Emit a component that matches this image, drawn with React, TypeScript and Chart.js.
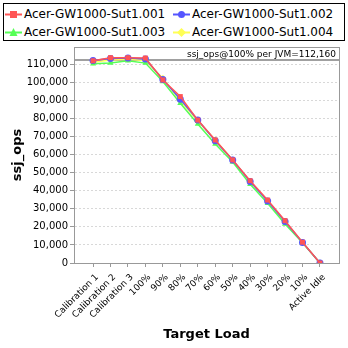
import React, { useEffect, useRef } from "react";
import { Chart, registerables } from "chart.js";
Chart.register(...registerables);

const categories = ["Calibration 1", "Calibration 2", "Calibration 3", "100%", "90%", "80%", "70%", "60%", "50%", "40%", "30%", "20%", "10%", "Active Idle"];
const seriesNames = ["Acer-GW1000-Sut1.001", "Acer-GW1000-Sut1.002", "Acer-GW1000-Sut1.003", "Acer-GW1000-Sut1.004"];
const sut001 = [111800, 113500, 113500, 113300, 101200, 92000, 79000, 68000, 57000, 45500, 34800, 23400, 11500, 0];
const sut002 = [112000, 113000, 113300, 112800, 101500, 90500, 79000, 67600, 56900, 45000, 34300, 22900, 11400, 0];
const sut003 = [110200, 110500, 111800, 110500, 100300, 88300, 76800, 65800, 55800, 43500, 33000, 21600, 11200, 0];
const sut004 = [111000, 112200, 112600, 112000, 102100, 89700, 78500, 68000, 56900, 45000, 34300, 22500, 11400, 0];
const refValue = 112160;
const refLabel = "ssj_ops@100% per JVM=112,160";
const yTicks = [0, 10000, 20000, 30000, 40000, 50000, 60000, 70000, 80000, 90000, 100000, 110000];

const colors = ["#ff5555", "#5555ff", "#55ff55", "#ffff55"];
const pointStyles = ["rect", "circle", "triangle", "rectRot"];
const allSeries = [sut001, sut002, sut003, sut004];

const FONT = "'DejaVu Sans', sans-serif";

function LegendMarker({ i }: { i: number }) {
  const c = colors[i];
  let shape: React.ReactNode;
  if (i === 0) shape = <rect x={5} y={3} width={7} height={7} fill={c} />;
  else if (i === 1) shape = <circle cx={8.5} cy={6.5} r={3.5} fill={c} />;
  else if (i === 2) shape = <polygon points="8.5,2 12.5,10 4.5,10" fill={c} />;
  else shape = <polygon points="8.5,2 13,6.5 8.5,11 4,6.5" fill={c} />;
  return (
    <svg width={17} height={13} style={{ display: "block" }}>
      <line x1={0} y1={6.5} x2={17} y2={6.5} stroke={c} strokeWidth={2} />
      {shape}
    </svg>
  );
}

export default function App() {
  const ref = useRef<HTMLCanvasElement>(null);
  useEffect(() => {
    document.body.style.margin = "0";
    const refPlugin = {
      id: "refline",
      beforeDatasetsDraw(chart: any) {
        const { ctx, chartArea, scales } = chart;
        const y = scales.y.getPixelForValue(refValue);
        ctx.save();
        ctx.strokeStyle = "#808080";
        ctx.lineWidth = 1.5;
        ctx.beginPath();
        ctx.moveTo(chartArea.left, y);
        ctx.lineTo(chartArea.right, y);
        ctx.stroke();
        ctx.fillStyle = "#000";
        ctx.font = "9px " + FONT;
        ctx.textAlign = "right";
        ctx.textBaseline = "top";
        ctx.fillText(refLabel, chartArea.right - 3, chartArea.top + 3);
        ctx.restore();
      },
      afterDraw(chart: any) {
        const { ctx, chartArea } = chart;
        ctx.save();
        ctx.strokeStyle = "#999";
        ctx.lineWidth = 1;
        ctx.strokeRect(Math.round(chartArea.left) + 0.5, Math.round(chartArea.top) + 0.5, Math.round(chartArea.right - chartArea.left), Math.round(chartArea.bottom - chartArea.top));
        ctx.restore();
      },
    };
    const chart = new Chart(ref.current!, {
      type: "line",
      data: {
        datasets: allSeries.map((s, i) => ({
          label: seriesNames[i],
          data: s.map((v, j) => ({ x: j, y: v })),
          borderColor: colors[i],
          backgroundColor: colors[i],
          borderWidth: 1.5,
          pointStyle: pointStyles[i] as any,
          pointRadius: 3.5,
          pointBorderWidth: 0,
          tension: 0,
        })),
      },
      options: {
        animation: false,
        responsive: false,
        layout: { padding: { top: 47, left: 0, right: 9, bottom: 0 } },
        plugins: { legend: { display: false }, tooltip: { enabled: false } },
        scales: {
          x: {
            type: "linear",
            min: -1.09,
            max: 14.09,
            afterBuildTicks(scale: any) {
              scale.ticks = categories.map((_, i) => ({ value: i }));
            },
            afterFit(scale: any) {
              scale.height = 85;
            },
            ticks: {
              autoSkip: false,
              maxRotation: 45,
              minRotation: 45,
              padding: 5,
              labelOffset: 4,
              color: "#000",
              font: { family: FONT, size: 9 },
              callback: (v: any) => categories[v] ?? "",
            },
            grid: { drawOnChartArea: false, drawTicks: true, tickLength: 4, color: "#999" },
            border: { display: true, color: "#999" },
            title: { display: true, text: "Target Load", color: "#000", font: { family: FONT, size: 13, weight: "bold" }, padding: { top: 0, bottom: 6 } },
          },
          y: {
            min: 0,
            max: 119400,
            afterBuildTicks(scale: any) {
              scale.ticks = yTicks.map((v) => ({ value: v }));
            },
            afterFit(scale: any) {
              scale.width = 74;
            },
            ticks: {
              color: "#000",
              padding: 2,
              font: { family: FONT, size: 10 },
              callback: (v: any) => Number(v).toLocaleString("en-US"),
            },
            grid: { color: "#d8d8d8", borderDash: [2, 2], tickBorderDash: [], tickColor: "#999", tickLength: 4 } as any,
            border: { display: true, color: "#999", dash: [2, 2] } as any,
            title: { display: true, text: "ssj_ops", color: "#000", font: { family: FONT, size: 13, weight: "bold" }, padding: { top: 10, bottom: 4 } },
          },
        },
      },
      plugins: [refPlugin],
    } as any);
    return () => chart.destroy();
  }, []);

  return (
    <div style={{ position: "relative", width: 348, height: 348, background: "#fff", fontFamily: FONT }}>
      <canvas ref={ref} width={348} height={348} style={{ position: "absolute", left: 0, top: 0 }} />
      <div style={{ position: "absolute", left: 3, top: 3, width: 340, height: 36, border: "1px solid #000", background: "#fff" }}>
        {seriesNames.map((n, i) => (
          <div key={n} style={{ position: "absolute", left: i % 2 === 0 ? 1 : 169, top: i < 2 ? 3 : 21, display: "flex", alignItems: "center", fontSize: 12, color: "#000", whiteSpace: "nowrap" }}>
            <LegendMarker i={i} />
            <span style={{ marginLeft: 2 }}>{n}</span>
          </div>
        ))}
      </div>
    </div>
  );
}
